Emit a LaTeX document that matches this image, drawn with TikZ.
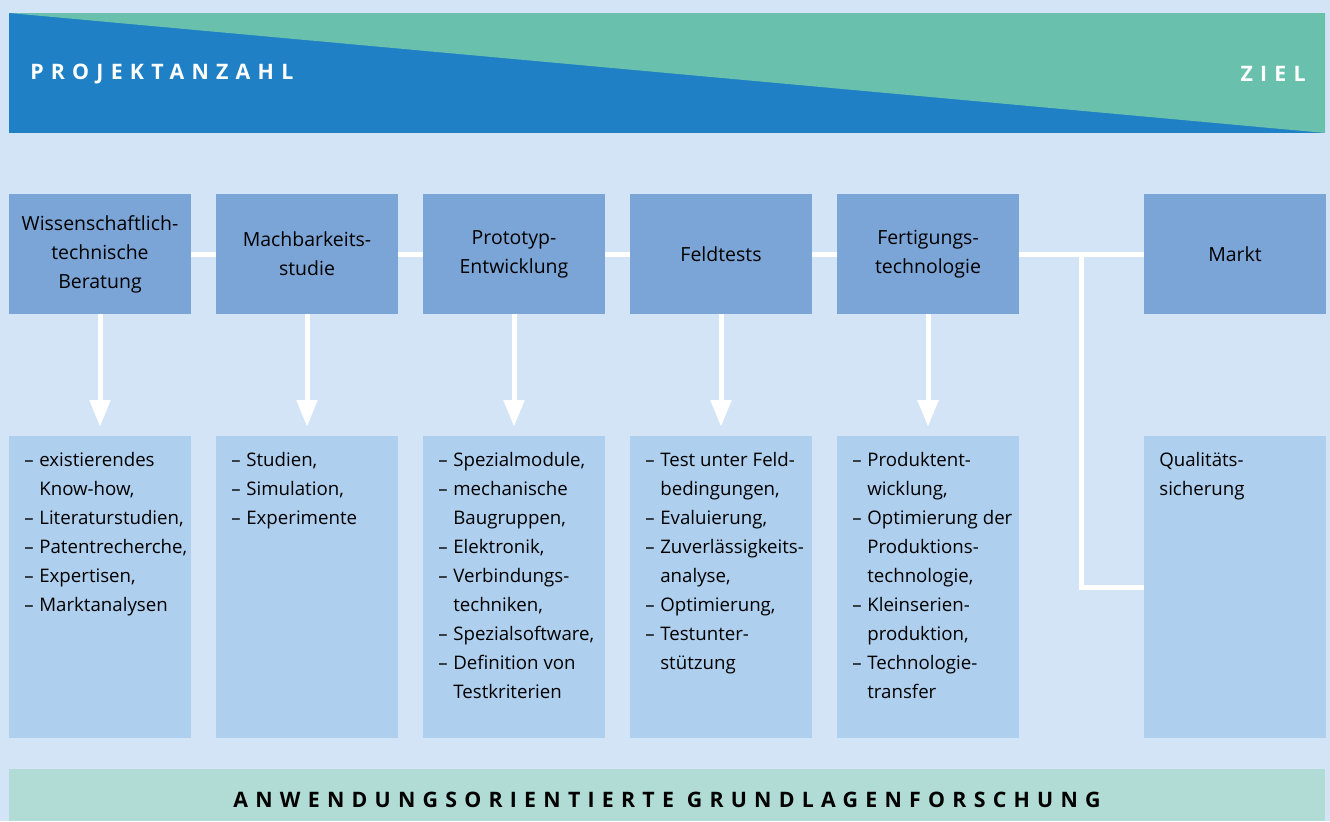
\documentclass[tikz,border=0pt]{standalone}
\usepackage{fontspec}
\setmainfont{Open Sans}
\newfontfamily\sperrschrift[LetterSpace=34]{Open Sans}
\usetikzlibrary{arrows.meta,calc}

\definecolor{grund}{HTML}{D3E4F6}
\definecolor{bannerblau}{HTML}{2080C5}
\definecolor{tuerkis}{HTML}{68C0AD}
\definecolor{phasenblau}{HTML}{7BA5D7}
\definecolor{listenblau}{HTML}{AECFEE}
\definecolor{fussgruen}{HTML}{B1DCD5}

\newcommand\pk{\makebox[11.25pt][l]{–}}
\newcommand\wt{\hspace*{11.25pt}}
\newcommand\liste[1]{\parbox[c][226.5pt][t]{136.5pt}{\hspace*{11.5pt}\parbox[t]{125pt}{\raggedright\rule{0pt}{22.5pt}#1}}}

\tikzset{
  phase/.style={fill=phasenblau, minimum width=136.5pt, minimum height=90pt, inner sep=0pt, align=center,
    font=\fontsize{14.6}{21.75}\selectfont},
  liste/.style={fill=listenblau, inner sep=0pt},
  banner/.style={text=white, font=\sperrschrift\bfseries\fontsize{16}{19}\selectfont, inner sep=0pt},
  fuss/.style={font=\sperrschrift\bfseries\fontsize{16}{19}\selectfont, inner sep=0pt},
  verbind/.style={white, line width=3.75pt},
  pfeil/.style={white, line width=3.75pt, -{Triangle[width=15pt,length=20pt]}, shorten >=6.75pt}
}

\begin{document}
\begin{tikzpicture}[x=0.75pt, y=-0.75pt, font=\fontsize{14}{21.75}\selectfont]
  \fill[grund] (0,0) rectangle (1330,821);
  % Banner oben
  \fill[bannerblau] (9,13) rectangle (1325,133);
  \fill[tuerkis] (9,13) -- (1325,13) -- (1325,133) -- cycle;
  \node[banner, anchor=west] (anzahl) at (30,74) {PROJEKTANZAHL};
  \node[banner, anchor=east] (ziel) at (1306,74) {ZIEL};
  % Phasen
  \foreach \n/\x/\t in {1/100/{Wissenschaftlich-\\technische\\Beratung},
      2/307/{Machbarkeits-\\studie}, 3/514/{Prototyp-\\Entwicklung},
      4/721/Feldtests, 5/928/{Fertigungs-\\technologie}, 6/1235/Markt}{
    \node[phase] (p\n) at (\x,254) {\t};
  }
  % Inhalte
  \node[liste] (l1) at (100,587) {\liste{\pk existierendes\\\wt Know-how,\\\pk Literaturstudien,\\\pk Patentrecherche,\\\pk Expertisen,\\\pk Marktanalysen}};
  \node[liste] (l2) at (307,587) {\liste{\pk Studien,\\\pk Simulation,\\\pk Experimente}};
  \node[liste] (l3) at (514,587) {\liste{\pk Spezialmodule,\\\pk mechanische\\\wt Baugruppen,\\\pk Elektronik,\\\pk Verbindungs-\\\wt techniken,\\\pk Spezialsoftware,\\\pk Definition von\\\wt Testkriterien}};
  \node[liste] (l4) at (721,587) {\liste{\pk Test unter Feld-\\\wt bedingungen,\\\pk Evaluierung,\\\pk Zuverlässigkeits-\\\wt analyse,\\\pk Optimierung,\\\pk Testunter-\\\wt stützung}};
  \node[liste] (l5) at (928,587) {\liste{\pk Produktent-\\\wt wicklung,\\\pk Optimierung der\\\wt Produktions-\\\wt technologie,\\\pk Kleinserien-\\\wt produktion,\\\pk Technologie-\\\wt transfer}};
  \node[liste] (l6) at (1235,587) {\liste{Qualitäts-\\sicherung}};
  % Verbindungen
  \foreach \a/\b in {1/2,2/3,3/4,4/5,5/6}
    \draw[verbind] (p\a) -- (p\b);
  \coordinate (abzw) at ($(p5.east)!0.5!(p6.west)$);
  \draw[verbind] (abzw) |- (l6);
  \foreach \n in {1,...,5}
    \draw[pfeil] (p\n) -- (l\n);
  % Fusszeile
  \fill[fussgruen] (9,769) rectangle (1325,821);
  \node[fuss] (grundlagen) at (667,800) {ANWENDUNGSORIENTIERTE GRUNDLAGENFORSCHUNG};
\end{tikzpicture}
\end{document}
